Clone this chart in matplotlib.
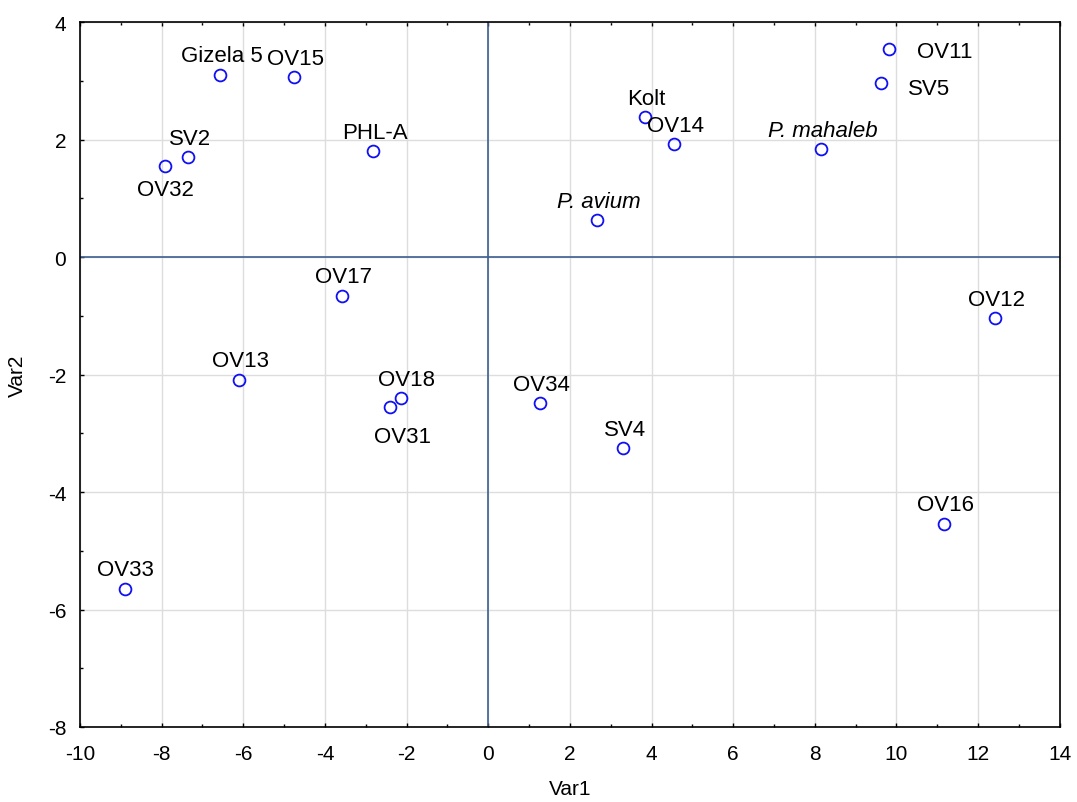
import matplotlib.pyplot as plt
from matplotlib.ticker import MultipleLocator

plt.rcParams['font.family'] = ['Liberation Sans', 'DejaVu Sans']
plt.rcParams['axes.unicode_minus'] = False

names = ["Gizela 5", "OV15", "PHL-A", "SV2", "OV32", "Kolt", "OV14",
         "P. mahaleb", "OV11", "SV5", "P. avium", "OV17", "OV12", "OV13",
         "OV18", "OV31", "OV34", "SV4", "OV16", "OV33"]
var1 = [-6.56, -4.75, -2.82, -7.35, -7.91, 3.85, 4.56,
        8.16, 9.82, 9.63, 2.67, -3.58, 12.42, -6.10,
        -2.13, -2.40, 1.27, 3.31, 11.17, -8.91]
var2 = [3.11, 3.06, 1.80, 1.70, 1.55, 2.38, 1.92,
        1.84, 3.54, 2.96, 0.63, -0.66, -1.04, -2.09,
        -2.40, -2.55, -2.49, -3.25, -4.54, -5.65]

# label offsets in points (dx, dy) of the text centre; default is just above
offsets = {"OV32": (0, -16.5), "OV31": (9, -21), "OV11": (40, -1.5),
           "SV5": (34, -4), "OV18": (3.6, 13.7)}
italic = {"P. mahaleb", "P. avium"}

fig = plt.figure(figsize=(10.77, 8.03), dpi=100)
ax = fig.add_axes([0.0743, 0.0934, 0.9097, 0.8776])

ax.set_xlim(-10, 14)
ax.set_ylim(-8, 4)
ax.xaxis.set_major_locator(MultipleLocator(2))
ax.xaxis.set_minor_locator(MultipleLocator(1))
ax.yaxis.set_major_locator(MultipleLocator(2))
ax.yaxis.set_minor_locator(MultipleLocator(1))
ax.grid(True, which='major', color='#dddddd', linewidth=1)
ax.set_axisbelow(True)
ax.tick_params(which='both', direction='in', labelsize=15, top=True)
ax.tick_params(axis='x', pad=12)
ax.tick_params(axis='y', pad=10)
ax.tick_params(which='major', length=3, width=1)
ax.tick_params(which='minor', length=2, width=1)
for s in ax.spines.values():
    s.set_linewidth(1.2)

ax.axhline(0, color='#3f5f8f', linewidth=1.2, zorder=1)
ax.axvline(0, color='#3f5f8f', linewidth=1.2, zorder=1)

ax.plot(var1, var2, 'o', markersize=8.5, markerfacecolor='none',
        markeredgecolor='#1010f0', markeredgewidth=1.3, zorder=3)

for n, x, y in zip(names, var1, var2):
    dx, dy = offsets.get(n, (1, 13.7))
    ax.annotate(n, (x, y), xytext=(dx, dy), textcoords='offset points',
                ha='center', va='center', fontsize=16,
                style='italic' if n in italic else 'normal')

ax.set_xlabel("Var1", fontsize=15, labelpad=12)
ax.set_ylabel("Var2", fontsize=15, labelpad=15)

fig.savefig("out.png", dpi=100)
